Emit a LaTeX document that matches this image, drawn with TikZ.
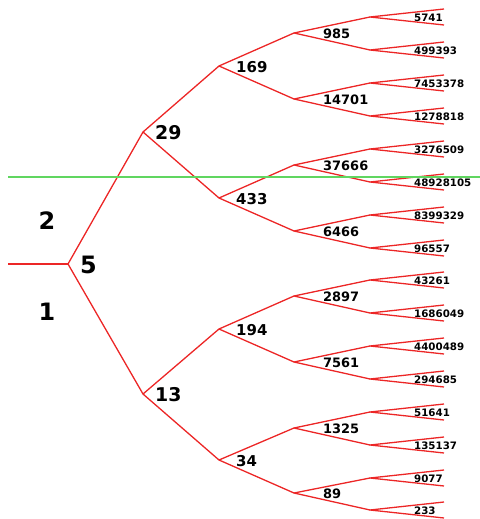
\documentclass[tikz,border=0pt]{standalone}
\usepackage{fontspec}
\setmainfont{DejaVu Sans}

\definecolor{treered}{RGB}{236,38,38}
\definecolor{cutgreen}{RGB}{96,214,96}

\tikzset{
  branch/.style={draw=treered, line width=1.3bp, line join=round},
  cutline/.style={draw=cutgreen, line width=1.1bp},
  sidelbl/.style={inner sep=0pt, font=\fontsize{24}{24}\selectfont\bfseries},
  lblone/.style={inner sep=0pt, anchor=west, font=\fontsize{19}{19}\selectfont\bfseries},
  lbltwo/.style={inner sep=0pt, anchor=west, font=\fontsize{15}{15}\selectfont\bfseries},
  lblthree/.style={inner sep=0pt, anchor=west, font=\fontsize{13}{13}\selectfont\bfseries},
  lblleaf/.style={inner sep=0pt, anchor=west, font=\fontsize{10.3}{10.3}\selectfont\bfseries}
}

\begin{document}
\begin{tikzpicture}[x=1bp, y=-1bp]
        \useasboundingbox (0,0) rectangle (480,519);

        % Branch points
        \coordinate (stem) at (8,264);
        \coordinate (r) at (68,264);
        \coordinate (r0) at (143,132);
        \coordinate (r1) at (143,394);
        \coordinate (r00) at (219,66);
        \coordinate (r01) at (219,198);
        \coordinate (r10) at (219,329);
        \coordinate (r11) at (219,460);
        \coordinate (r000) at (294,33);
        \coordinate (r001) at (294,99);
        \coordinate (r010) at (294,165);
        \coordinate (r011) at (294,231);
        \coordinate (r100) at (294,296);
        \coordinate (r101) at (294,362);
        \coordinate (r110) at (294,428);
        \coordinate (r111) at (294,493);
        \coordinate (r0000) at (370,17);
        \coordinate (r0001) at (370,50);
        \coordinate (r0010) at (370,83);
        \coordinate (r0011) at (370,116);
        \coordinate (r0100) at (370,149);
        \coordinate (r0101) at (370,182);
        \coordinate (r0110) at (370,215);
        \coordinate (r0111) at (370,248);
        \coordinate (r1000) at (370,280);
        \coordinate (r1001) at (370,313);
        \coordinate (r1010) at (370,346);
        \coordinate (r1011) at (370,379);
        \coordinate (r1100) at (370,412);
        \coordinate (r1101) at (370,445);
        \coordinate (r1110) at (370,478);
        \coordinate (r1111) at (370,510);

        % Branches
        \draw[branch] (stem) -- (r);
        \draw[branch] (r0) -- (r) -- (r1);
        \draw[branch] (r00) -- (r0) -- (r01);
        \draw[branch] (r10) -- (r1) -- (r11);
        \draw[branch] (r000) -- (r00) -- (r001);
        \draw[branch] (r010) -- (r01) -- (r011);
        \draw[branch] (r100) -- (r10) -- (r101);
        \draw[branch] (r110) -- (r11) -- (r111);
        \draw[branch] (r0000) -- (r000) -- (r0001);
        \draw[branch] (r0010) -- (r001) -- (r0011);
        \draw[branch] (r0100) -- (r010) -- (r0101);
        \draw[branch] (r0110) -- (r011) -- (r0111);
        \draw[branch] (r1000) -- (r100) -- (r1001);
        \draw[branch] (r1010) -- (r101) -- (r1011);
        \draw[branch] (r1100) -- (r110) -- (r1101);
        \draw[branch] (r1110) -- (r111) -- (r1111);

        % Leaf forks
        \foreach \n in {0000,0001,0010,0011,0100,0101,0110,0111,
                        1000,1001,1010,1011,1100,1101,1110,1111} {
            \path (r\n) ++(74,-8) coordinate (r\n a);
            \path (r\n) ++(74,8) coordinate (r\n b);
            \draw[branch] (r\n a) -- (r\n) -- (r\n b);
        }

        % Cut line
        \draw[cutline] (8,177) -- (480,177);

        % Side labels
        \node[sidelbl] (lbl2) at (47,221) {2};
        \node[sidelbl] (lbl1) at (47,312) {1};

        % Labels of the levels
        \node[sidelbl, anchor=west] (lbl5) at (80,265) {5};
        \node[lblone] (lbl29) at (155,133) {29};
        \node[lblone] (lbl13) at (155,395) {13};
        \node[lbltwo] (lbl169) at (236,67) {169};
        \node[lbltwo] (lbl433) at (236,199) {433};
        \node[lbltwo] (lbl194) at (236,330) {194};
        \node[lbltwo] (lbl34) at (236,461) {34};
        \node[lblthree] (lbl985) at (323,34) {985};
        \node[lblthree] (lbl14701) at (323,100) {14701};
        \node[lblthree] (lbl37666) at (323,166) {37666};
        \node[lblthree] (lbl6466) at (323,232) {6466};
        \node[lblthree] (lbl2897) at (323,297) {2897};
        \node[lblthree] (lbl7561) at (323,363) {7561};
        \node[lblthree] (lbl1325) at (323,429) {1325};
        \node[lblthree] (lbl89) at (323,494) {89};

        % Leaf values
        \node[lblleaf] (v5741) at (414,18) {5741};
        \node[lblleaf] (v499393) at (414,51) {499393};
        \node[lblleaf] (v7453378) at (414,84) {7453378};
        \node[lblleaf] (v1278818) at (414,117) {1278818};
        \node[lblleaf] (v3276509) at (414,150) {3276509};
        \node[lblleaf] (v48928105) at (414,183) {48928105};
        \node[lblleaf] (v8399329) at (414,216) {8399329};
        \node[lblleaf] (v96557) at (414,249) {96557};
        \node[lblleaf] (v43261) at (414,281) {43261};
        \node[lblleaf] (v1686049) at (414,314) {1686049};
        \node[lblleaf] (v4400489) at (414,347) {4400489};
        \node[lblleaf] (v294685) at (414,380) {294685};
        \node[lblleaf] (v51641) at (414,413) {51641};
        \node[lblleaf] (v135137) at (414,446) {135137};
        \node[lblleaf] (v9077) at (414,479) {9077};
        \node[lblleaf] (v233) at (414,511) {233};
\end{tikzpicture}
\end{document}
